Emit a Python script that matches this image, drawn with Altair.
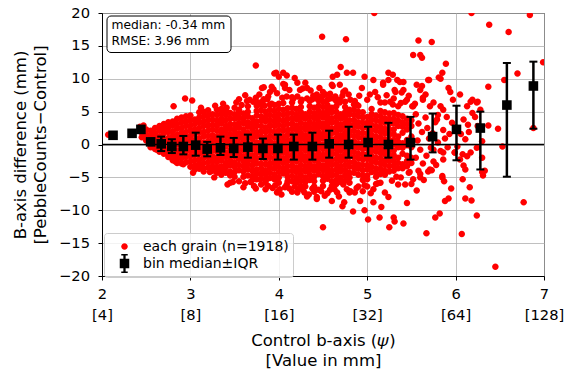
import altair as alt
import pandas as pd

GRAIN_LABEL = "each grain (n=1918)"
BIN_LABEL = "bin median\u00b1IQR"

# ---- grain cloud: dense core, read column by column (psi, [differences in mm]) ----
core_columns = [
    (2.45, [2.6, 1.8, 1.1]),
    (2.50, [2.3, 1.5, 0.6]),
    (2.55, [2.1, 1.3, 0.4, -0.4]),
    (2.60, [2.5, 1.6, 0.9, 0.2, -0.7]),
    (2.65, [2.8, 2.1, 1.2, 0.5, -0.3, -1.1]),
    (2.70, [3.1, 2.4, 1.7, 0.8, 0.1, -0.7, -1.4]),
    (2.75, [3.4, 2.6, 1.9, 1.0, 0.3, -0.6, -1.2, -1.9]),
    (2.80, [3.5, 2.9, 2.0, 1.3, 0.5, -0.3, -1.0, -1.8, -2.4]),
    (2.85, [3.9, 3.1, 2.4, 1.5, 0.8, 0.0, -0.9, -1.5, -2.2, -2.8]),
    (2.90, [4.1, 3.4, 2.5, 1.8, 1.0, 0.3, -0.6, -1.3, -2.1, -2.9]),
    (2.95, [4.3, 3.5, 2.8, 1.9, 1.2, 0.4, -0.4, -1.1, -1.9, -2.7]),
    (3.00, [4.4, 3.7, 2.9, 2.2, 1.3, 0.6, -0.3, -1.0, -1.8, -2.6, -3.4]),
    (3.05, [3.8, 3.1, 2.3, 1.6, 0.7, 0.0, -0.9, -1.6, -2.4, -3.2, -3.8]),
    (3.10, [4.9, 4.1, 3.4, 2.5, 1.8, 0.9, 0.2, -0.7, -1.4, -2.3, -3.0, -3.7]),
    (3.15, [5.0, 4.3, 3.5, 2.8, 1.9, 1.2, 0.3, -0.4, -1.3, -2.0, -2.8, -3.6, -4.1]),
    (3.20, [5.2, 4.4, 3.7, 2.9, 2.1, 1.3, 0.5, -0.3, -1.1, -1.9, -2.7, -3.5]),
    (3.25, [4.6, 3.8, 3.0, 2.3, 1.4, 0.7, -0.1, -0.9, -1.8, -2.5, -3.3, -4.0]),
    (3.30, [5.3, 4.5, 3.6, 2.9, 2.1, 1.2, 0.5, -0.4, -1.1, -2.0, -2.7, -3.5, -4.3]),
    (3.35, [5.4, 4.7, 3.9, 3.2, 2.3, 1.6, 0.8, -0.1, -0.8, -1.7, -2.4, -3.3, -4.0, -4.6]),
    (3.40, [5.2, 4.5, 3.7, 2.8, 2.1, 1.3, 0.4, -0.3, -1.2, -1.9, -2.8, -3.5, -4.3]),
    (3.45, [4.8, 4.0, 3.1, 2.4, 1.6, 0.8, 0.0, -0.9, -1.6, -2.4, -3.2, -4.1, -4.7]),
    (3.50, [5.6, 4.6, 3.9, 3.0, 2.2, 1.5, 0.6, -0.2, -1.0, -1.8, -2.7, -3.4, -4.2, -4.9]),
    (3.55, [5.3, 4.9, 4.1, 3.3, 2.6, 1.7, 1.0, 0.1, -0.7, -1.5, -2.2, -3.1, -3.9]),
    (3.60, [4.7, 3.9, 3.2, 2.3, 1.5, 0.7, -0.1, -0.9, -1.8, -2.5, -3.3, -4.1, -4.9]),
    (3.65, [5.8, 5.0, 4.3, 3.4, 2.7, 1.8, 1.1, 0.2, -0.6, -1.4, -2.3, -3.0, -3.8, -4.7]),
    (3.70, [4.0, 3.2, 2.4, 1.6, 0.8, -0.1, -0.8, -1.7, -2.4, -3.2, -4.0, -4.8, -5.4]),
    (3.75, [5.9, 5.1, 4.4, 3.5, 2.8, 1.9, 1.2, 0.3, -0.5, -1.3, -2.1, -2.9, -3.8, -4.5, -5.3]),
    (3.80, [6.0, 5.2, 4.3, 3.6, 2.8, 2.0, 1.2, 0.4, -0.4, -1.2, -2.0, -2.9, -3.6, -4.4, -5.2]),
    (3.85, [5.0, 4.2, 3.5, 2.6, 1.9, 1.0, 0.3, -0.6, -1.4, -2.2, -3.0, -3.9, -4.6, -5.4, -5.8]),
    (3.90, [6.1, 5.3, 4.5, 3.7, 2.9, 2.1, 1.3, 0.5, -0.3, -1.1, -1.9, -2.8, -3.5, -4.3, -5.1]),
    (3.95, [6.0, 5.1, 4.3, 3.5, 2.8, 1.9, 1.1, 0.2, -0.5, -1.3, -2.2, -2.9, -3.7, -4.6, -5.3]),
    (4.00, [6.2, 5.4, 4.6, 3.8, 3.0, 2.2, 1.4, 0.6, -0.2, -1.0, -1.8, -2.6, -3.4, -4.2, -5.0, -5.8]),
    (4.05, [6.3, 5.3, 4.5, 3.6, 2.8, 2.1, 1.2, 0.4, -0.5, -1.2, -2.1, -2.8, -3.7, -4.4]),
    (4.10, [5.5, 4.7, 3.9, 3.1, 2.2, 1.5, 0.7, -0.1, -0.9, -1.7, -2.5, -3.3, -4.1, -4.9, -5.6]),
    (4.15, [6.4, 5.6, 4.8, 4.0, 3.2, 2.4, 1.6, 0.8, 0.0, -0.8, -1.6, -2.4, -3.2, -4.0, -4.8, -5.6]),
    (4.20, [5.4, 4.5, 3.8, 2.9, 2.2, 1.3, 0.6, -0.3, -1.0, -1.9, -2.6, -3.5, -4.2, -5.1, -5.8]),
    (4.25, [6.5, 5.7, 4.9, 4.1, 3.3, 2.5, 1.7, 0.9, 0.1, -0.7, -1.5, -2.3, -3.1, -3.9, -4.7, -5.5, -6.3]),
    (4.30, [4.6, 3.9, 3.0, 2.3, 1.4, 0.7, -0.2, -0.9, -1.8, -2.5, -3.4, -4.1, -5.0, -5.7, -6.4]),
    (4.35, [6.6, 5.8, 5.0, 4.2, 3.4, 2.6, 1.8, 1.0, 0.2, -0.6, -1.4, -2.2, -3.0, -3.8, -4.6, -5.4]),
    (4.40, [5.6, 4.7, 4.0, 3.1, 2.4, 1.5, 0.8, -0.1, -0.8, -1.7, -2.4, -3.3, -4.0, -4.9, -5.6, -6.4]),
    (4.45, [6.7, 5.9, 5.1, 4.3, 3.5, 2.7, 1.9, 1.1, 0.3, -0.5, -1.3, -2.1, -2.9, -3.7, -4.5]),
    (4.50, [6.5, 5.7, 4.8, 4.1, 3.2, 2.5, 1.6, 0.9, 0.0, -0.7, -1.6, -2.3, -3.2, -3.9, -4.8, -5.5, -6.3]),
    (4.55, [6.8, 6.0, 5.2, 4.4, 3.6, 2.8, 2.0, 1.2, 0.4, -0.4, -1.2, -2.0, -2.8, -3.6, -4.4, -5.2]),
    (4.60, [5.6, 4.9, 4.0, 3.3, 2.4, 1.7, 0.8, 0.1, -0.8, -1.5, -2.4, -3.1, -4.0, -4.7, -5.6, -6.3]),
    (4.65, [6.6, 5.8, 5.0, 4.2, 3.4, 2.6, 1.8, 1.0, 0.2, -0.6, -1.4, -2.2, -3.0, -3.8, -4.6, -5.4, -6.0]),
    (4.70, [4.6, 3.9, 3.0, 2.3, 1.4, 0.7, -0.2, -0.9, -1.8, -2.5, -3.4, -4.1, -5.0, -5.7]),
    (4.75, [6.5, 5.7, 4.9, 4.1, 3.3, 2.5, 1.7, 0.9, 0.1, -0.7, -1.5, -2.3, -3.1, -3.9, -4.7, -5.5]),
    (4.80, [5.3, 4.6, 3.7, 3.0, 2.1, 1.4, 0.5, -0.2, -1.1, -1.8, -2.7, -3.4, -4.3, -5.0, -5.8]),
    (4.85, [6.1, 5.3, 4.5, 3.7, 2.9, 2.1, 1.3, 0.5, -0.3, -1.1, -1.9, -2.7, -3.5, -4.3]),
    (4.90, [5.9, 5.0, 4.3, 3.4, 2.7, 1.8, 1.1, 0.2, -0.5, -1.4, -2.1, -3.0, -3.7, -4.6]),
    (4.95, [4.9, 4.1, 3.3, 2.5, 1.7, 0.9, 0.1, -0.7, -1.5, -2.3, -3.1, -3.9, -4.7, -5.4]),
    (5.00, [4.2, 3.3, 2.6, 1.7, 1.0, 0.1, -0.6, -1.5, -2.2, -3.1, -3.8, -4.7, -5.3]),
    (5.05, [5.4, 4.6, 3.8, 3.0, 2.2, 1.4, 0.6, -0.2, -1.0, -1.8, -2.6, -3.4, -4.2]),
    (5.10, [4.4, 3.7, 2.8, 2.1, 1.2, 0.5, -0.4, -1.1, -2.0, -2.7, -3.6, -4.3, -4.9]),
    (5.15, [5.1, 4.3, 3.5, 2.7, 1.9, 1.1, 0.3, -0.5, -1.3, -2.1, -2.9, -3.7, -4.5]),
    (5.20, [4.9, 4.0, 3.3, 2.4, 1.7, 0.8, 0.1, -0.8, -1.5, -2.4, -3.1, -4.0, -4.6]),
    (5.25, [4.7, 3.9, 3.1, 2.3, 1.5, 0.7, -0.1, -0.9, -1.7, -2.5, -3.3, -4.1]),
    (5.30, [4.8, 3.9, 3.2, 2.3, 1.6, 0.7, 0.0, -0.9, -1.6, -2.5, -3.2, -4.0]),
    (5.35, [4.5, 3.6, 2.8, 1.2, 0.4, -0.4, -2.0, -2.8, -3.6]),
    (5.40, [4.3, 3.4, 2.7, 1.8, 0.2, -0.5, -1.4, -3.0, -3.6]),
    (5.45, [3.9, 3.1, 2.3, 0.7, -0.1, -1.7, -2.5, -3.3]),
    (5.50, [3.7, 2.8, 1.2, -0.4, -2.0, -2.8]),
]

# ---- grain cloud: fringe and outliers read individually ----
fringe_psi = [
    2.07, 2.43, 2.47, 2.59, 2.81, 2.94, 3.02, 3.28, 3.41, 3.58,
    3.64, 3.67, 3.71, 3.74, 3.77, 3.82, 3.83, 3.84, 3.92,
    3.74, 3.97, 3.95, 4.05, 4.00, 4.09, 4.07, 4.05,
    3.81, 3.83, 3.92, 3.94, 3.90,
    4.04, 4.09, 4.15, 4.21, 4.26, 4.32, 4.39, 4.43, 4.49, 4.58, 4.64, 4.69,
    4.21, 4.30, 4.27, 4.36, 4.50, 4.60, 4.66, 4.77, 4.84, 4.70, 4.61, 4.61,
    4.69, 4.75, 4.18, 4.07, 4.24, 4.32, 4.43, 4.73, 4.81, 4.94, 4.97, 5.07,
    5.09, 5.18, 5.24, 5.29, 5.34, 5.31, 5.41, 5.39, 5.45, 5.56, 5.60, 5.63,
    5.69, 5.00, 5.15, 5.26, 5.35, 5.52, 4.58, 4.69, 4.88, 5.18, 5.24, 5.37,
    5.41, 5.32, 5.20, 5.29, 5.43, 5.51, 5.62, 5.63, 5.60, 5.52, 5.62, 5.58,
    5.73, 5.81, 5.85, 5.89, 5.92, 5.94, 6.05, 5.83, 5.90, 5.79, 5.96, 6.09,
    6.17, 6.24, 6.22, 6.14, 6.11, 6.19, 6.37, 6.48, 6.70, 6.55, 6.99, 6.88,
    5.70, 5.83, 5.97, 6.13, 6.19, 6.25, 6.28, 6.37, 6.53, 5.71, 5.80, 5.86,
    5.08, 6.18, 6.84, 6.38, 6.60, 4.49, 4.76,
    5.55, 5.58, 5.62, 5.57, 5.60, 5.55, 5.63, 5.66, 5.68, 5.70, 5.72, 5.67,
    5.75, 5.77, 5.74, 5.80, 5.83, 5.78, 5.86, 5.88, 5.91, 5.93, 5.99, 6.02,
    5.86, 5.75, 5.71, 5.60, 6.11, 6.05, 6.17, 6.08, 6.00, 6.06, 6.15, 6.25,
    6.30,
    3.12, 3.37, 3.52, 3.55, 3.62, 3.78, 3.87, 3.88, 3.98, 4.12, 4.16, 4.38,
    4.46, 4.53, 4.62, 4.72, 4.79, 4.86, 4.91, 5.03, 5.12, 5.22, 5.30, 5.38,
    5.47, 5.54, 5.66, 5.75,
    2.62, 2.83, 2.92, 3.11, 3.22, 3.42, 3.45, 3.74, 3.79, 3.87, 3.99, 3.98,
    4.07, 4.01, 4.09, 4.21, 4.34, 4.32, 4.38, 4.43, 4.43, 4.50, 4.60, 4.66,
    4.73, 4.72, 4.74, 4.81, 4.86, 4.84, 4.92, 4.95, 4.97, 5.01, 5.07, 5.07,
    5.14, 5.16, 5.15, 5.20, 5.24, 5.25, 5.30, 5.31, 5.35, 5.41, 5.43, 5.45,
    5.48, 5.52, 5.56, 5.60, 5.67, 5.69, 5.73, 5.77, 5.82, 5.85, 5.87, 5.85,
    5.88, 5.92, 5.95, 5.86, 5.99, 6.07, 6.08, 6.09, 6.11, 6.13, 6.16, 6.18,
    6.24, 6.24, 6.30, 6.31, 6.33, 6.30, 6.45, 6.77,
    3.55, 3.62, 3.68, 3.80, 3.88, 3.93, 4.12, 4.18, 4.27, 4.48, 4.55, 4.63,
    4.80, 4.90, 5.00, 5.10, 5.28, 5.38,
    3.03, 3.27, 3.48, 3.72, 3.96, 4.22, 4.40, 4.58, 4.77, 4.97, 5.12, 5.33,
    5.47, 3.60, 3.85, 4.03, 4.15, 4.29, 4.45, 4.52, 4.68, 4.88, 5.04, 5.50,
    5.58, 5.64,
]
fringe_diff = [
    1.5, 2.7, 2.9, 1.8, 5.8, 7.0, 6.7, 5.9, 5.6, 6.0,
    6.6, 6.8, 6.5, 7.1, 6.4, 6.6, 6.9, 5.9, 6.2,
    12.0, 10.9, 10.8, 10.9, 10.3, 10.5, 9.1, 9.2,
    8.6, 8.7, 8.8, 8.4, 8.0,
    7.1, 7.3, 7.2, 7.3, 6.8, 7.0, 7.4, 7.0, 7.3, 7.7, 7.3, 6.8,
    9.4, 9.4, 8.5, 8.2, 8.0, 9.1, 10.6, 10.9, 10.9, 11.8, 10.3, 8.9,
    9.1, 8.2, 10.1, 8.6, 8.3, 8.6, 7.6, 8.0, 6.8, 8.6, 10.3, 9.8,
    8.0, 9.1, 9.8, 10.6, 9.8, 8.3, 9.5, 7.9, 6.8, 9.1, 8.3, 6.8,
    9.8, 6.8, 6.4, 6.5, 5.8, 5.8, 7.0, 6.4, 6.1, 9.4, 10.9, 9.5,
    8.3, 8.0, 6.4, 6.1, 6.5, 5.8, 8.9, 7.1, 13.6, 13.6, 13.2, 15.8,
    15.6, 10.2, 10.9, 12.3, 8.6, 8.0, 7.6, 5.8, 4.2, 3.8, 3.3, 3.8,
    6.5, 6.4, 4.2, 3.0, 0.8, 4.8, 8.8, 2.4, 10.8, 9.8, 12.5, 2.5,
    9.8, 10.0, 6.8, 5.8, 6.8, 6.5, 5.3, 2.9, -0.3, 5.8, 4.5, 5.3,
    20.0, 20.0, 19.7, 18.2, 17.1, 16.4, 16.0,
    4.6, 3.2, 1.9, 0.6, -0.8, -2.0, -2.9, 4.1, 2.5, 0.9, -0.5, -1.7,
    -2.6, 3.4, 1.7, 0.3, -1.0, -3.1, 2.2, 0.9, -0.4, 1.6, -1.2, -0.3,
    -1.2, -0.8, -3.8, -4.5, -3.8, -2.3, -1.2, -1.5, 2.6, 1.6, 1.9, 2.8,
    0.5,
    5.6, 6.2, 6.4, 6.9, 7.5, 7.6, 6.9, 7.3, 7.8, 8.3, 6.9, 6.9,
    8.6, 7.6, 7.0, 7.4, 7.6, 6.6, 7.4, 7.6, 7.2, 7.5, 7.0, 6.3,
    7.4, 6.2, 7.6, 6.4,
    -0.8, -2.6, -3.0, -3.5, -4.2, -6.1, -5.8, -6.7, -5.3, -5.2, -7.1, -7.3,
    -6.5, -6.8, -6.1, -7.3, -7.6, -7.9, -6.7, -8.0, -8.3, -12.6, -8.6, -7.3,
    -6.1, -9.4, -8.8, -7.1, -7.3, -10.2, -8.6, -7.1, -10.0, -11.4, -6.8, -8.8,
    -11.1, -9.5, -5.8, -7.3, -8.0, -12.6, -11.1, -11.7, -6.1, -12.0, -6.1, -8.9,
    -4.2, -5.3, -7.0, -5.0, -13.5, -4.1, -3.9, -11.1, -10.5, -5.0, -5.6, -4.8,
    -8.6, -8.2, -6.7, -2.3, -1.2, -13.6, -5.3, -3.2, -8.2, -1.8, -6.5, -8.5,
    -10.8, -0.5, -4.2, -4.7, -4.0, -2.0, -18.6, -8.8,
    -5.6, -5.9, -5.7, -6.1, -6.3, -6.6, -6.7, -6.4, -6.9, -7.1, -7.4, -6.8,
    -7.3, -6.4, -6.4, -6.0, -5.5, -5.0,
    -4.3, -5.0, -5.7, -6.3, -6.2, -6.8, -7.2, -6.9, -6.8, -6.2, -5.9, -4.9,
    -4.3, -6.5, -6.8, -7.6, -7.2, -7.3, -6.9, -7.8, -7.9, -6.6, -7.4, -6.0,
    -4.0, -5.4,
]

# ---- bin statistics ----
bin_psi = [2.125, 2.34, 2.44, 2.55, 2.67, 2.79, 2.92, 3.06, 3.19, 3.34, 3.49, 3.65, 3.82,
           3.99, 4.17, 4.38, 4.57, 4.79, 5.01, 5.24, 5.49, 5.74, 6.01, 6.28, 6.58, 6.88]
bin_median = [1.4, 1.7, 2.3, 0.4, 0.1, -0.3, -0.3, -0.1, -0.7, -0.5, -0.6, -0.4, -0.6,
              -0.6, -0.3, -0.3, 0.1, 0.0, 0.3, 0.0, 0.3, 1.2, 2.3, 2.5, 6.0, 8.9]
bin_q1 = [1.4, 1.7, 2.3, 0.4, -1.0, -1.3, -1.5, -1.7, -1.8, -1.6, -1.9, -2.0, -2.2,
          -2.3, -2.3, -2.3, -2.0, -2.0, -1.7, -2.0, -2.3, -1.2, -2.4, -3.8, -4.9, 2.4]
bin_q3 = [1.4, 1.7, 2.3, 0.4, 1.2, 0.8, 1.3, 1.8, 0.4, 1.2, 1.0, 1.5, 0.9,
          1.5, 1.5, 1.8, 2.1, 2.7, 2.7, 3.3, 4.2, 4.7, 5.9, 5.0, 12.4, 12.6]

# ---- axes / annotation text ----
x_tick_psi = [2, 3, 4, 5, 6, 7]
x_tick_mm = ["[4]", "[8]", "[16]", "[32]", "[64]", "[128]"]
y_ticks = [-20, -15, -10, -5, 0, 5, 10, 15, 20]
x_title = ["Control b-axis (\U0001D713)", "[Value in mm]"]
y_title = ["B-axis difference (mm)", "[PebbleCounts\u2212Control]"]
stats_lines = ["median: -0.34 mm", "RMSE: 3.96 mm"]

FONT = "DejaVu Sans"

# ---- tables ----
gx, gy = [], []
for px, ys in core_columns:
    for v in ys:
        gx.append(px)
        gy.append(v)
gx += fringe_psi
gy += fringe_diff
grains = pd.DataFrame({"psi": gx, "diff": gy, "series": GRAIN_LABEL})
bins = pd.DataFrame({"psi": bin_psi, "med": bin_median, "q1": bin_q1, "q3": bin_q3})

label_map = "{" + ",".join(
    "'%d':['%d','%s']" % (p, p, m) for p, m in zip(x_tick_psi, x_tick_mm)
) + "}[datum.label]"

x_scale = alt.Scale(domain=[2, 7], nice=False, zero=False)
y_scale = alt.Scale(domain=[-20, 20], nice=False, zero=False)
x_axis = alt.Axis(values=x_tick_psi, labelExpr=label_map, labelLineHeight=21,
                  labelOverlap=False, labelFlush=False, labelPadding=6, titlePadding=11)
y_axis = alt.Axis(values=y_ticks, labelOverlap=False, labelFlush=False,
                  labelPadding=8.5, titlePadding=10)


def X(field):
    return alt.X(field, scale=x_scale, axis=x_axis, title=x_title)


def Y(field):
    return alt.Y(field, scale=y_scale, axis=y_axis, title=y_title)


circle_path = "M-0.342,0A0.342,0.342,0,1,1,0.342,0A0.342,0.342,0,1,1,-0.342,0Z"
errbar_path = ("M-0.5,-0.5H0.5V0.5H-0.5Z M-0.12,-1H0.12V1H-0.12Z "
               "M-0.34,-1H0.34V-0.84H-0.34Z M-0.34,0.84H0.34V1H-0.34Z")

color_scale = alt.Scale(domain=[GRAIN_LABEL, BIN_LABEL], range=["#ff0000", "#000000"])
shape_scale = alt.Scale(domain=[GRAIN_LABEL, BIN_LABEL], range=[circle_path, errbar_path])

scatter = alt.Chart(grains).mark_point(
    filled=True, size=361, opacity=1, strokeWidth=0, clip=True
).encode(
    x=X("psi:Q"),
    y=Y("diff:Q"),
    color=alt.Color("series:N", scale=color_scale, title=None),
    shape=alt.Shape("series:N", scale=shape_scale, title=None),
)

zero_line = alt.Chart(pd.DataFrame({"zero": [0]})).mark_rule(
    color="black", strokeWidth=1.5
).encode(y=Y("zero:Q"))

bars = alt.Chart(bins).mark_rule(color="black", strokeWidth=2.5).encode(
    x=X("psi:Q"), y=Y("q1:Q"), y2="q3:Q",
)
cap_lo = alt.Chart(bins).mark_tick(
    color="black", orient="horizontal", size=8, thickness=2, opacity=1
).encode(x=X("psi:Q"), y=Y("q1:Q"))
cap_hi = alt.Chart(bins).mark_tick(
    color="black", orient="horizontal", size=8, thickness=2, opacity=1
).encode(x=X("psi:Q"), y=Y("q3:Q"))
squares = alt.Chart(bins).mark_square(
    color="black", size=92, opacity=1, filled=True
).encode(x=X("psi:Q"), y=Y("med:Q"))

stats_df = pd.DataFrame({"txt": ["\n".join(stats_lines)]})
stats_box = alt.Chart(stats_df).mark_rect(
    fill="white", stroke="black", strokeWidth=1, cornerRadius=4
).encode(x=alt.value(5), x2=alt.value(129), y=alt.value(3), y2=alt.value(39.5))
stats_text = alt.Chart(stats_df).mark_text(
    align="left", baseline="alphabetic", lineBreak="\n", lineHeight=15.7,
    font=FONT, fontSize=12.3, color="black"
).encode(x=alt.value(9.5), y=alt.value(16.3), text="txt:N")

chart = alt.layer(
    scatter, zero_line, bars, cap_lo, cap_hi, squares, stats_box, stats_text
).properties(
    width=442, height=263,
    autosize=alt.AutoSizeParams(type="none"),
    padding={"left": 102, "top": 13, "right": 22, "bottom": 98},
).configure_view(
    stroke="black", strokeWidth=1
).configure_axis(
    domainColor="black", domainWidth=1, tickColor="black", tickSize=4, tickWidth=1,
    labelFont=FONT, labelFontSize=14.7, labelColor="black",
    titleFont=FONT, titleFontSize=16.5, titleFontWeight="normal", titleColor="black",
    titleLineHeight=20, grid=True, gridColor="#b0b0b0", gridWidth=0.8,
).configure_legend(
    orient="none", legendX=2, legendY=220, direction="vertical",
    fillColor="rgba(255,255,255,0.8)", strokeColor="#cccccc", cornerRadius=3,
    padding=4, rowPadding=0, labelFont=FONT, labelFontSize=14, labelColor="black",
    symbolSize=361, symbolStrokeWidth=0, symbolOpacity=1, symbolOffset=7,
    labelOffset=9,
)

chart.save("out.html", embed_options={"renderer": "svg", "actions": False})
